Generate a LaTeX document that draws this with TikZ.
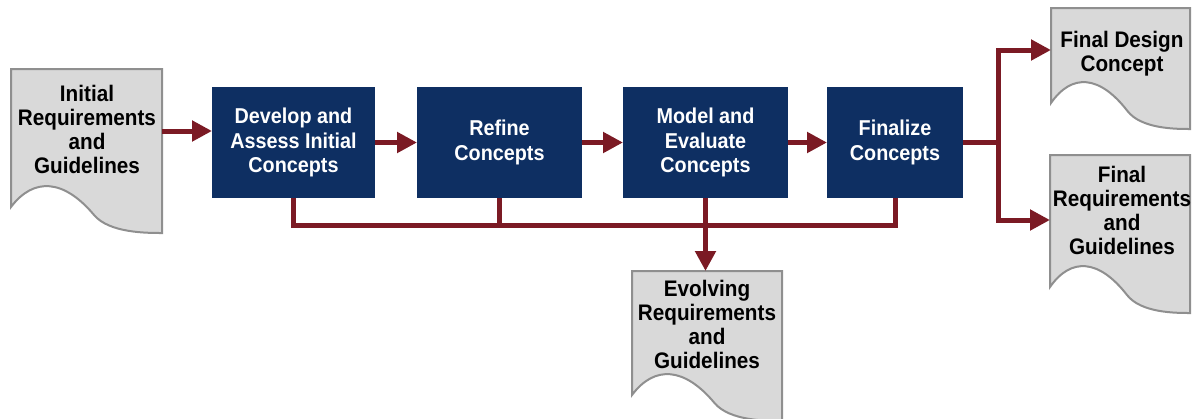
\documentclass[tikz,border=0pt]{standalone}
\usepackage{fontspec}
\newfontfamily\lab[FakeStretch=0.92]{Liberation Sans}
\usetikzlibrary{arrows.meta,calc}
\definecolor{navy}{HTML}{0E2F62}
\definecolor{dred}{HTML}{7B1A24}
\definecolor{docfill}{HTML}{D9D9D9}
\definecolor{docline}{HTML}{8F8F8F}
\newcommand{\mydoc}[4]{% x0 x1 top yl
  \draw[docstyle] (#1,#3) -- (#2,#3) -- (#2,{#4+26})
    .. controls ({#2-0.1*(#2-#1)},{#4+26}) and ({#1+0.65*(#2-#1)},{#4+26}) .. ({#1+0.55*(#2-#1)},{#4+8})
    .. controls ({#1+0.35*(#2-#1)},{#4-28}) and ({#1+0.15*(#2-#1)},{#4-30}) .. (#1,#4) -- cycle;}
\begin{document}
\begin{tikzpicture}[x=1pt,y=-1pt,
  docstyle/.style={draw=docline,fill=docfill,line width=2pt,line join=miter},
  doctext/.style={font=\lab\bfseries\fontsize{22.5}{24}\selectfont,align=center,text=black,inner sep=0pt},
  frame/.style={inner sep=0pt,outer sep=0pt},
  stepbox/.style={fill=navy,draw=none,inner sep=0pt,outer sep=0pt,minimum height=111pt,
     font=\lab\bfseries\fontsize{21.5}{24.5}\selectfont,align=center,text=white},
  arr/.style={draw=dred,line width=5pt,-{Triangle[length=20pt,width=20pt]}},
  fbline/.style={draw=dred,line width=5pt},
  ]
\useasboundingbox (0,0) rectangle (1192,418);

% documents
\mydoc{11}{162}{69}{207}
\node[frame,minimum width=151pt,minimum height=138pt] (initF) at (86.5,138) {};
\node[doctext] (init) at (87,129) {Initial\\Requirements\\and\\Guidelines};

\mydoc{632}{782}{271}{395}
\node[frame,minimum width=150pt,minimum height=124pt] (evoF) at (707,333) {};
\node[doctext] (evo) at (707,324) {Evolving\\Requirements\\and\\Guidelines};

\mydoc{1051}{1190}{8}{103}
\node[frame,minimum width=139pt,minimum height=95pt] (fdF) at (1120.5,55.5) {};
\node[doctext] (fd) at (1122,54) {Final Design\\Concept};

\mydoc{1050}{1190}{155}{287}
\node[frame,minimum width=140pt,minimum height=132pt] (frF) at (1120,221) {};
\node[doctext] (fr) at (1122,210) {Final\\Requirements\\and\\Guidelines};

% process boxes
\node[stepbox,minimum width=163pt] (b1) at (293.5,142.5) {Develop and\\Assess Initial\\Concepts};
\node[stepbox,minimum width=165pt] (b2) at (499.5,142.5) {Refine\\Concepts};
\node[stepbox,minimum width=165pt] (b3) at (705.5,142.5) {Model and\\Evaluate\\Concepts};
\node[stepbox,minimum width=136pt] (b4) at (895,142.5) {Finalize\\Concepts};

% arrows
\draw[arr] (initF.east |- 0,131) -- (b1.west |- 0,131);
\draw[arr] (b1.east) -- (b2.west);
\draw[arr] (b2.east) -- (b3.west);
\draw[arr] (b3.east) -- (b4.west);

% feedback
\coordinate (fb) at (0,225);
\draw[fbline,line join=miter] (b1.south) -- (b1.south |- fb) -- (b4.south |- fb) -- (b4.south);
\draw[fbline] (b2.south) -- (b2.south |- fb);
\draw[fbline] (b3.south) -- (b3.south |- fb);
\draw[arr] (b3.south |- fb) -- (b3.south |- evoF.north);

% outputs
\coordinate (br) at (998,142.5);
\draw[draw=dred,line width=4.5pt] (b4.east) -- (br);
\draw[arr] ([yshift=-2.25pt]br) |- (fdF.west |- 0,50);
\draw[arr] ([yshift=2.25pt]br) |- (frF.west |- 0,220);
\end{tikzpicture}
\end{document}
